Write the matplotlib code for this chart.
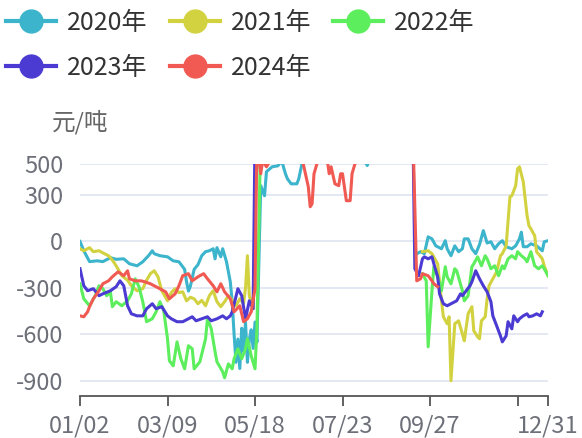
import numpy as np
import matplotlib
matplotlib.use('Agg')
import matplotlib.pyplot as plt
from matplotlib.lines import Line2D

plt.rcParams['font.family'] = ['Noto Sans CJK SC', 'DejaVu Sans']

# category axis: trading days 01/02 ... 12/31 (index 0..246)
tick_pos = [0, 46, 92, 138, 184, 230, 246]
tick_labels = ['01/02', '03/09', '05/18', '07/23', '09/27', '', '12/31']
y_ticks = [500, 300, 0, -300, -600, -900]
nan = np.nan

# 2020
d2020 = [0, 2, 5, 9, 12, 16, 19, 23, 26, 30, 33, 36, 38, 39, 42, 46, 49, 52, 55, 56, 57, 58, 60, 62, 64, 66,
         68, 70, 71, 72, 74, 75, 77, 79, 80, 81, 82, 83, 84, 85, 86, 87, 88, 89, 90, 91, 92, 93, 95, 97, 98,
         101, 104, 106, 108, 109, 111, 114, 115, 117, 120, 130, 140, 148, 151, 153, 156, 157,
         177, 179, 181, 183, 185, 187, 190, 192, 193, 195, 197, 199, 201, 202, 204, 206, 208, 210, 212, 214,
         216, 218, 220, 222, 224, 227, 229, 231, 232, 233, 235, 237, 240, 243, 244, 246]
v2020 = [0, -60, -130, -125, -130, -105, -115, -112, -144, -157, -131, -92, -60, -79, -92, -99, -125, -131,
         -180, -260, -320, -290, -180, -150, -92, -66, -60, -47, -112, -40, -99, -47, -131, -260, -390, -600,
         -780, -630, -820, -560, -710, -520, -780, -630, -570, -690, -520, -650, 360, 295, 450,
         482, 488, 521, 437, 405, 372, 372, 405, 521, 620, 700, 650, 560, 490, 560, 620, nan,
         -80, -66, -79, 30, 17, -28, -47, 5, -47, -92, -28, -66, -47, 17, 17, -47, -79, -20, 70, -10,
         -2, -47, -15, 5, -34, -47, -28, 17, 60, -34, -34, -15, -28, -60, -2, 5]

# 2021
d2021 = [0, 2, 5, 7, 10, 13, 15, 17, 19, 22, 25, 27, 30, 33, 35, 37, 39, 41, 43, 46, 48, 50, 52, 54, 56, 58,
         60, 62, 64, 66, 68, 70, 72, 74, 76, 78, 80, 82, 84, 86, 87, 88, 89, 91, 93, 120, 150, 151,
         180, 183, 185, 188, 190, 191, 193, 194, 195, 197, 199, 201, 202, 204, 206, 207, 209, 210, 211, 213,
         214, 215, 217, 219, 221, 222, 224, 226, 227, 229, 230, 231, 233, 234, 235, 236, 237, 239, 240, 243,
         244, 246]
v2021 = [-47, -60, -40, -66, -60, -80, -92, -120, -157, -221, -250, -286, -318, -305, -250, -208, -189, -228,
         -318, -383, -330, -305, -330, -325, -383, -360, -370, -402, -380, -415, -350, -318, -389, -421,
         -389, -350, -380, -415, -370, -400, -300, -92, -350, -434, 700, 800, 750, nan,
         -66, -60, -79, -144, -383, -486, -531, -486, -899, -531, -512, -596, -641, -467, -421, -577, -615,
         -628, -512, -486, -370, -286, -241, -196, -92, -79, -28, 289, 295, 360, 469, 482, 385, 276, 166,
         101, 82, 37, -66, -112, -157, -221]

# 2022
d2022 = [0, 2, 5, 8, 10, 12, 14, 16, 17, 19, 22, 25, 27, 29, 31, 33, 35, 38, 40, 42, 44, 46, 47, 49, 51, 53,
         55, 57, 59, 60, 63, 66, 67, 69, 71, 72, 75, 76, 78, 80, 81, 83, 85, 87, 88, 90, 92, 93, 95, 120,
         150, 151,
         180, 182, 183, 185, 186, 188, 190, 192, 193, 195, 197, 198, 201, 202, 204, 206, 207, 209, 211, 213,
         214, 216, 218, 220, 222, 223, 225, 227, 229, 230, 232, 234, 235, 237, 239, 241, 243, 244, 246]
v2022 = [-273, -370, -415, -350, -286, -305, -350, -325, -421, -389, -415, -383, -338, -241, -292, -389,
         -518, -499, -454, -389, -447, -628, -770, -803, -648, -757, -822, -673, -693, -822, -777, -628,
         -499, -564, -712, -777, -841, -880, -790, -822, -757, -693, -757, -693, -628, -738, -822, -564,
         700, 800, 750, nan,
         -208, -254, -680, -318, -163, -228, -318, -163, -228, -273, -176, -189, -318, -383, -350, -163,
         -144, -99, -157, -92, -112, -176, -157, -221, -157, -176, -112, -92, -112, -66, -92, -112, -131,
         -66, -157, -176, -157, -176, -221]

# 2023
d2023 = [0, 2, 4, 7, 10, 12, 16, 19, 21, 23, 25, 27, 30, 33, 35, 38, 40, 43, 46, 48, 51, 54, 57, 59, 61, 64,
         67, 69, 72, 75, 77, 79, 80, 83, 85, 87, 89, 91, 92, 120, 150, 175,
         176, 178, 180, 181, 183, 185, 186, 188, 189, 191, 193, 195, 198, 200, 201, 203, 205, 206, 208, 210,
         212, 214, 216, 217, 219, 221, 222, 224, 225, 227, 228, 230, 231, 233, 235, 236, 238, 240, 242, 243]
v2023 = [-176, -286, -318, -305, -350, -338, -318, -292, -254, -286, -415, -467, -480, -480, -434, -402,
         -434, -421, -480, -499, -518, -518, -499, -486, -512, -499, -486, -512, -499, -480, -499, -480,
         -454, -305, -350, -499, -383, -434, 700, 800, 800, 700,
         -176, -221, -112, -99, -112, -99, -144, -228, -338, -402, -415, -402, -383, -338, -350, -318, -286,
         -260, -189, -241, -286, -325, -389, -480, -544, -609, -648, -609, -518, -564, -480, -518, -499,
         -480, -467, -486, -480, -467, -480, -454]

# 2024
d2024 = [0, 2, 4, 5, 7, 10, 12, 15, 17, 20, 23, 25, 26, 29, 32, 34, 37, 39, 42, 45, 47, 50, 52, 54, 57, 59,
         62, 65, 67, 70, 72, 74, 76, 79, 81, 84, 86, 88, 90, 92, 93, 95, 96, 98, 100, 105, 112, 117, 120,
         121, 122, 123, 125, 127, 130, 131, 132, 134, 136, 137, 138, 140, 142, 143, 145, 147, 160, 175,
         177, 179, 180, 183, 185, 186, 188]
v2024 = [-480, -486, -454, -421, -370, -318, -273, -254, -228, -196, -221, -189, -241, -254, -254, -260,
         -273, -286, -305, -325, -370, -338, -286, -221, -208, -254, -228, -208, -241, -286, -325, -273,
         -325, -370, -454, -415, -518, -499, -454, -305, 650, 437, 521, 482, 521, 600, 650, 521, 353,
         224, 243, 437, 521, 600, 521, 437, 482, 372, 360, 437, 437, 263, 263, 437, 521, 600, 700, 700,
         -254, -241, -208, -221, -254, -273, -292]

names = ['2020年', '2021年', '2022年', '2023年', '2024年']
colors = ['#3bb4cc', '#d2d240', '#5cee5c', '#4b3bd2', '#f05a52']
series = [(d2020, v2020), (d2021, v2021), (d2022, v2022), (d2023, v2023), (d2024, v2024)]

fig = plt.figure(figsize=(5.82, 4.38), dpi=100)
ax = fig.add_axes([80 / 582, 1 - 396.4 / 438, 468 / 582, 232.4 / 438])

for (d, v), c in zip(series, colors):
    ax.plot(d, v, color=c, linewidth=2.2, zorder=3)

ax.set_xlim(0, 246)
ax.set_ylim(-1000, 500)
ax.set_yticks(y_ticks)
ax.set_yticklabels([str(t) for t in y_ticks])
ax.yaxis.grid(True, color='#e0e6f1', linewidth=1.3)
ax.set_axisbelow(True)
ax.set_xticks(tick_pos)
ax.set_xticklabels(tick_labels)
for s in ['top', 'right', 'left']:
    ax.spines[s].set_visible(False)
ax.spines['bottom'].set_color('#555555')
ax.spines['bottom'].set_linewidth(1.3)
ax.tick_params(axis='y', length=0, pad=12, labelsize=17, labelcolor='#6e7079')
ax.tick_params(axis='x', length=7, width=1.3, color='#555555', pad=6, labelsize=17, labelcolor='#6e7079')

ax.text(0, 1.18, '元/吨', transform=ax.transAxes, ha='center', va='center', fontsize=17, color='#666666')

# legend laid out row by row (matplotlib fills columns first)
order = [0, 3, 1, 4, 2]
handles = [Line2D([], [], color=colors[i], linewidth=3, marker='o', markersize=16.5) for i in order]
fig.legend(handles, [names[i] for i in order], loc='upper left', bbox_to_anchor=(6 / 582, 1 - 10 / 438),
           ncol=3, frameon=False, fontsize=18, handlelength=2.0, handletextpad=0.44, columnspacing=0.88,
           labelspacing=0.76, borderpad=0, borderaxespad=0, labelcolor='#333333')

fig.savefig('out.png', dpi=100)
